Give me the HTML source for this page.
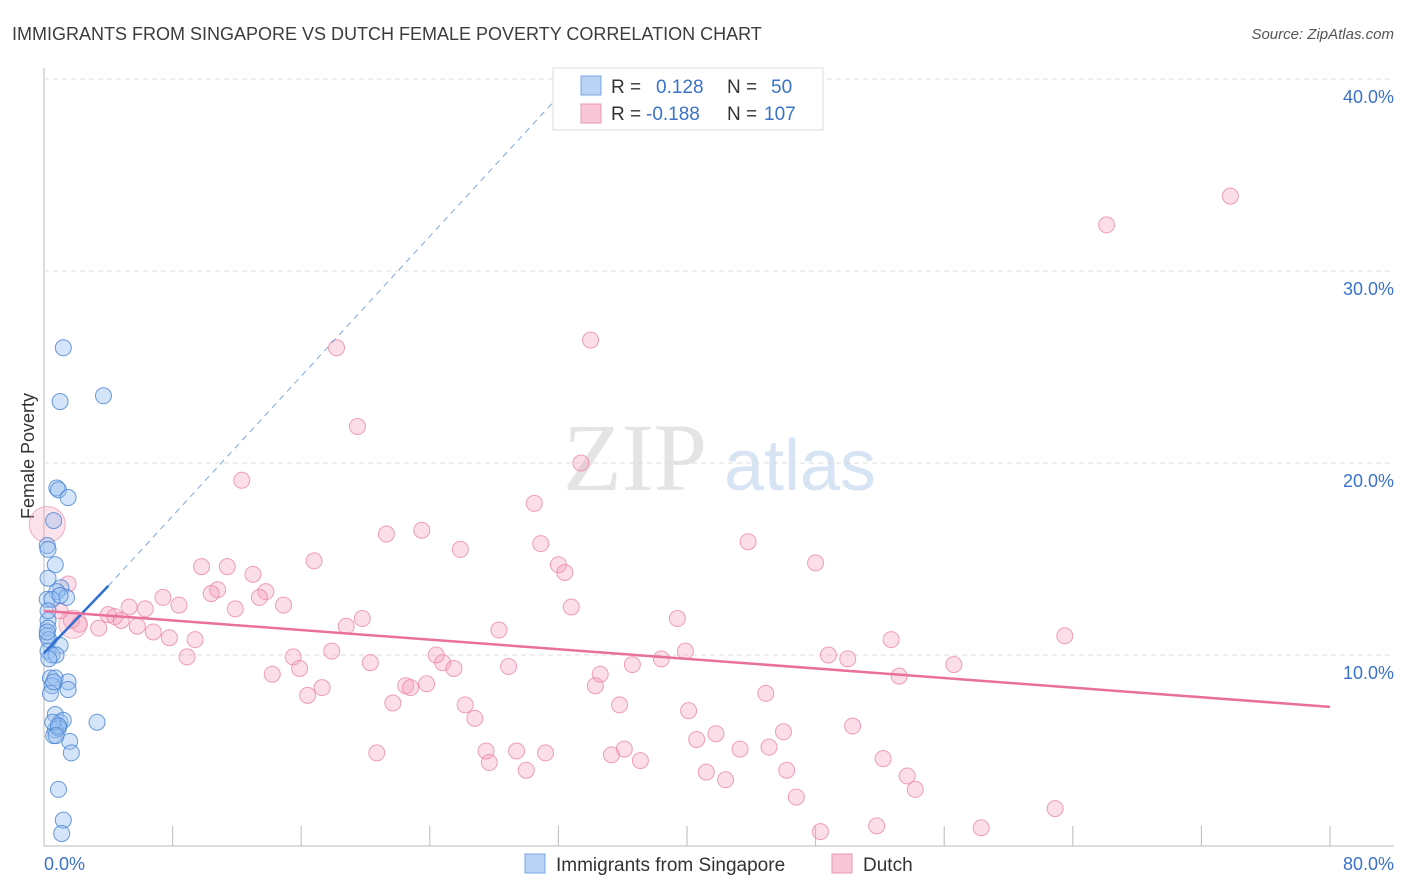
<!DOCTYPE html>
<html><head><meta charset="utf-8">
<style>
body{margin:0;background:#fff;font-family:"Liberation Sans",sans-serif;}
#wrap{position:relative;width:1406px;height:892px;overflow:hidden;}
</style></head>
<body>
<div id="wrap">
<svg id="chart" width="1406" height="892">
<text x="12" y="40" font-size="18" fill="#3c3c3c">IMMIGRANTS FROM SINGAPORE VS DUTCH FEMALE POVERTY CORRELATION CHART</text>
<text x="1394" y="39" font-size="15" fill="#555" text-anchor="end" font-style="italic">Source: ZipAtlas.com</text>
<text x="635" y="490" font-size="96" fill="#e4e4e4" text-anchor="middle" font-family="Liberation Serif,serif">ZIP</text>
<text x="800" y="490" font-size="72" fill="#d7e4f4" text-anchor="middle">atlas</text>
<text transform="translate(34,456) rotate(-90)" font-size="18" fill="#333" text-anchor="middle">Female Poverty</text>
<g id="grid"></g><g id="pts"></g><g id="lines"></g>
<text x="44" y="870" font-size="18" fill="#3a72c8">0.0%</text>
<text x="1394" y="870" font-size="18" fill="#3a72c8" text-anchor="end">80.0%</text>
<g>
<rect x="553" y="68" width="270" height="62" fill="#fff" stroke="#ddd"/>
<rect x="581" y="76" width="20" height="19" fill="#b8d3f4" stroke="#7aa6e0"/>
<rect x="581" y="104" width="20" height="19" fill="#f8c6d6" stroke="#e99ab3"/>
<text x="611" y="93" font-size="19" fill="#333">R =</text><text x="656" y="93" font-size="19" fill="#3a72c8">0.128</text>
<text x="727" y="93" font-size="19" fill="#333">N =</text><text x="771" y="93" font-size="19" fill="#3a72c8">50</text>
<text x="611" y="120" font-size="19" fill="#333">R =</text><text x="646" y="120" font-size="19" fill="#3a72c8">-0.188</text>
<text x="727" y="120" font-size="19" fill="#333">N =</text><text x="764" y="120" font-size="19" fill="#3a72c8">107</text>
</g>
<g>
<rect x="525" y="854" width="20" height="19" fill="#b8d3f4" stroke="#7aa6e0"/>
<text x="556" y="871" font-size="19" fill="#333">Immigrants from Singapore</text>
<rect x="832" y="854" width="20" height="19" fill="#f8c6d6" stroke="#e99ab3"/>
<text x="863" y="871" font-size="19" fill="#333">Dutch</text>
</g>
</svg>
</div>
<script>
const yTicks=[10,20,30,40];
const xTicks=[0,8,16,24,32,40,48,56,64,72,80];
const blueX=[1.2,1.0,3.7,0.8,0.9,1.5,0.6,0.2,0.7,0.25,1.05,0.8,1.4,0.25,0.25,0.2,0.3,1.0,0.25,0.5,0.75,0.4,0.7,1.5,0.5,1.5,0.7,1.0,1.2,3.3,0.7,0.6,0.9,1.6,1.7,0.9,1.2,1.1,0.25,0.2,0.5,0.25,0.4,1.0,0.55,0.2,0.9,0.3,0.6,0.75];
const blueY=[26.0,23.2,23.5,18.7,18.6,18.2,17.0,15.7,14.7,14.0,13.5,13.3,13.0,11.8,11.4,11.0,10.8,10.5,10.2,10.0,10.0,8.8,8.8,8.6,8.4,8.2,6.9,6.5,6.6,6.5,6.1,5.8,6.2,5.5,4.9,3.0,1.4,0.7,15.5,12.9,12.9,12.3,8.0,13.1,6.5,11.2,6.3,9.8,8.6,5.8];
const pinkX=[73.8,66.1,34.0,18.2,19.5,33.4,12.3,30.5,23.5,21.3,30.9,25.9,43.8,48.0,16.8,32.0,32.4,9.8,11.4,13.0,10.8,10.4,13.8,13.4,7.4,8.4,14.9,11.9,32.8,5.3,6.3,4.0,4.4,4.8,19.8,18.8,5.8,6.8,39.4,28.3,7.8,9.4,63.5,52.7,8.9,17.9,15.5,24.4,48.8,39.9,50.0,15.9,20.3,24.8,25.5,28.9,36.6,38.4,34.6,56.6,53.2,14.2,17.3,16.4,22.5,22.8,23.8,34.3,44.9,21.7,26.2,35.8,26.8,40.1,50.3,46.0,41.8,40.6,20.7,27.5,29.4,31.2,36.1,35.3,43.3,45.1,37.1,27.7,30.0,52.2,41.2,46.2,42.4,53.7,54.2,46.8,62.9,51.8,48.3,58.3,1.5,1.0,1.7,3.4,2.2];
const pinkY=[33.9,32.4,26.4,26.0,21.9,20.0,19.1,17.9,16.5,16.3,15.8,15.5,15.9,14.8,14.9,14.7,14.3,14.6,14.6,14.2,13.4,13.2,13.3,13.0,13.0,12.6,12.6,12.4,12.5,12.5,12.4,12.1,12.0,11.8,11.9,11.5,11.5,11.2,11.9,11.3,10.9,10.8,11.0,10.8,9.9,10.2,9.9,10.0,10.0,10.2,9.8,9.3,9.6,9.6,9.3,9.4,9.5,9.8,9.0,9.5,8.9,9.0,8.3,7.9,8.4,8.3,8.5,8.4,8.0,7.5,7.4,7.4,6.7,7.1,6.3,6.0,5.9,5.6,4.9,5.0,5.0,4.9,5.1,4.8,5.1,5.2,4.5,4.4,4.0,4.6,3.9,4.0,3.5,3.7,3.0,2.6,2.0,1.1,0.8,1.0,13.7,12.3,11.8,11.4,11.6];
const pinkR=pinkX.map(()=>8);
const X=v=>44+v*16.075, Y=v=>847-v*19.2;
const NS="http://www.w3.org/2000/svg";
function mk(tag,attrs,parent){const e=document.createElementNS(NS,tag);for(const k in attrs)e.setAttribute(k,attrs[k]);parent.appendChild(e);return e;}
const grid=document.getElementById('grid');
const ax=mk('line',{x1:44,y1:68,x2:44,y2:846,stroke:'#bbb'},grid);


const bx=mk('line',{x1:44,y1:846,x2:1394,y2:846,stroke:'#bbb'},grid);


yTicks.forEach(t=>{
 const l=mk('line',{x1:44,x2:1394,y1:Y(t),y2:Y(t),stroke:'#ddd','stroke-dasharray':'5,4'},grid);
 
 
 const tx=mk('text',{x:1394,y:Y(t)+24,'font-size':18,fill:'#3a72c8','text-anchor':'end'},grid);
 tx.textContent=t.toFixed(1)+'%';
 
 
});
xTicks.forEach(t=>{
 const l=mk('line',{x1:X(t),x2:X(t),y1:826,y2:846,stroke:'#bbb'},grid);
 
 
});
const pts=document.getElementById('pts');
pinkX.forEach((v,i)=>{
 const c=mk('circle',{cx:X(v),cy:Y(pinkY[i]),r:pinkR[i],fill:'rgba(244,160,188,0.35)',stroke:'rgba(232,130,165,0.75)','stroke-width':1},pts);
 
 
});
[[0.2,16.8,18],[1.8,11.6,14]].forEach(p=>{
 const c=mk('circle',{cx:X(p[0]),cy:Y(p[1]),r:p[2],fill:'rgba(244,160,188,0.3)',stroke:'rgba(232,130,165,0.6)'},pts);
 
 
});
blueX.forEach((v,i)=>{
 const c=mk('circle',{cx:X(v),cy:Y(blueY[i]),r:8,fill:'rgba(150,190,240,0.4)',stroke:'rgba(70,130,210,0.8)','stroke-width':1},pts);
 
 
});
const lines=document.getElementById('lines');
const bd=mk('line',{x1:X(4),y1:Y(13.6),x2:X(33),y2:Y(40.0),stroke:'#7fa6dc','stroke-dasharray':'6,5','stroke-width':1},lines);


const bl=mk('line',{x1:X(0),y1:Y(10.1),x2:X(4),y2:Y(13.6),stroke:'#2f6fd0','stroke-width':2.5},lines);


const pl=mk('line',{x1:X(0),y1:Y(12.3),x2:X(80),y2:Y(7.3),stroke:'#e8709a','stroke-width':2.5},lines);


</script>
</body></html>
